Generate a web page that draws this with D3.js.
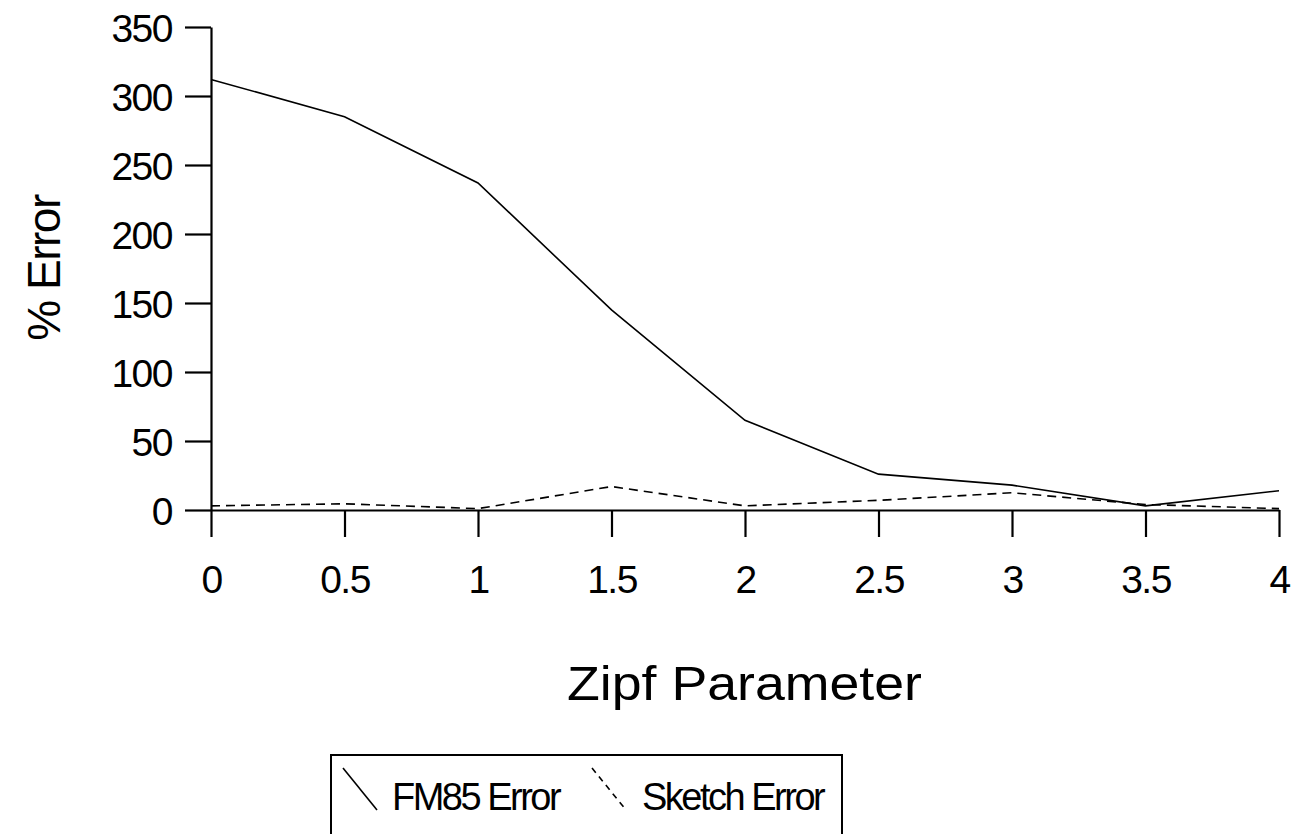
<!DOCTYPE html>
<html>
<head>
<meta charset="utf-8">
<script src="https://cdn.jsdelivr.net/npm/d3@7"></script>
<style>
  body { margin: 0; background: #fff; }
  text { font-family: "Liberation Sans", Arial, sans-serif; fill: #000; }
</style>
</head>
<body>
<div id="chart"></div>
<script>
var zipf = [0, 0.5, 1, 1.5, 2, 2.5, 3, 3.5, 4];
var fm85Error = [312, 285, 237, 145, 65, 26, 18, 3, 14];
var sketchError = [3, 4.5, 1, 17, 3, 7, 12.5, 4, 1];
var xTicks = [0, 0.5, 1, 1.5, 2, 2.5, 3, 3.5, 4];
var yTicks = [0, 50, 100, 150, 200, 250, 300, 350];
var seriesNames = ["FM85 Error", "Sketch Error"];

var width = 1292, height = 834;

var x = d3.scaleLinear().domain([0, 4]).range([211, 1279]);
var y = d3.scaleLinear().domain([0, 350]).range([510, 27]);

var svg = d3.select("#chart").append("svg")
    .attr("width", width)
    .attr("height", height);

// axes
var yAxis = svg.append("g")
    .attr("transform", "translate(" + x(0) + ",0)")
    .call(d3.axisLeft(y).tickValues(yTicks).tickSize(26).tickSizeOuter(0).tickPadding(13)
      .tickFormat(function(d) { return d; }));

var xAxis = svg.append("g")
    .attr("transform", "translate(0," + y(0) + ")")
    .call(d3.axisBottom(x).tickValues(xTicks).tickSize(27).tickSizeOuter(0).tickPadding(28)
      .tickFormat(function(d) { return d; }));

svg.selectAll(".domain, .tick line")
    .attr("stroke", "#000")
    .attr("stroke-width", 2.2);

svg.selectAll(".tick text")
    .style("font-size", "39px")
    .style("letter-spacing", "-1.5px")
    .attr("fill", "#000");

yAxis.selectAll(".tick text").attr("dy", "0.36em");

// lines
var line = d3.line()
    .x(function(d, i) { return x(zipf[i]); })
    .y(function(d) { return y(d); });

svg.append("path")
    .datum(fm85Error)
    .attr("fill", "none")
    .attr("stroke", "#000")
    .attr("stroke-width", 1.6)
    .attr("d", line);

svg.append("path")
    .datum(sketchError)
    .attr("fill", "none")
    .attr("stroke", "#000")
    .attr("stroke-width", 1.6)
    .attr("stroke-dasharray", "9,6")
    .attr("d", line);

// axis titles
svg.append("text")
    .attr("x", 567)
    .attr("y", 700)
    .attr("textLength", 355)
    .attr("lengthAdjust", "spacingAndGlyphs")
    .style("font-size", "49px")
    .text("Zipf Parameter");

svg.append("text")
    .attr("transform", "translate(60,268) rotate(-90)")
    .attr("text-anchor", "middle")
    .style("font-size", "46px")
    .style("letter-spacing", "-1.5px")
    .text("% Error");

// legend
var legend = svg.append("g");

legend.append("rect")
    .attr("x", 331)
    .attr("y", 755)
    .attr("width", 511)
    .attr("height", 100)
    .attr("fill", "none")
    .attr("stroke", "#000")
    .attr("stroke-width", 2);

var items = legend.selectAll(".item")
    .data(seriesNames)
  .enter().append("g")
    .attr("class", "item")
    .attr("transform", function(d, i) { return "translate(" + (i === 0 ? 343 : 592) + ",0)"; });

items.append("line")
    .attr("x1", 0).attr("y1", 768)
    .attr("x2", 34).attr("y2", 810)
    .attr("stroke", "#000")
    .attr("stroke-width", 1.6)
    .attr("stroke-dasharray", function(d, i) { return i === 0 ? null : "6,5"; });

items.append("text")
    .attr("x", function(d, i) { return i === 0 ? 49 : 50; })
    .attr("y", 810)
    .style("font-size", "38px")
    .style("letter-spacing", "-2.5px")
    .text(function(d) { return d; });
</script>
</body>
</html>
